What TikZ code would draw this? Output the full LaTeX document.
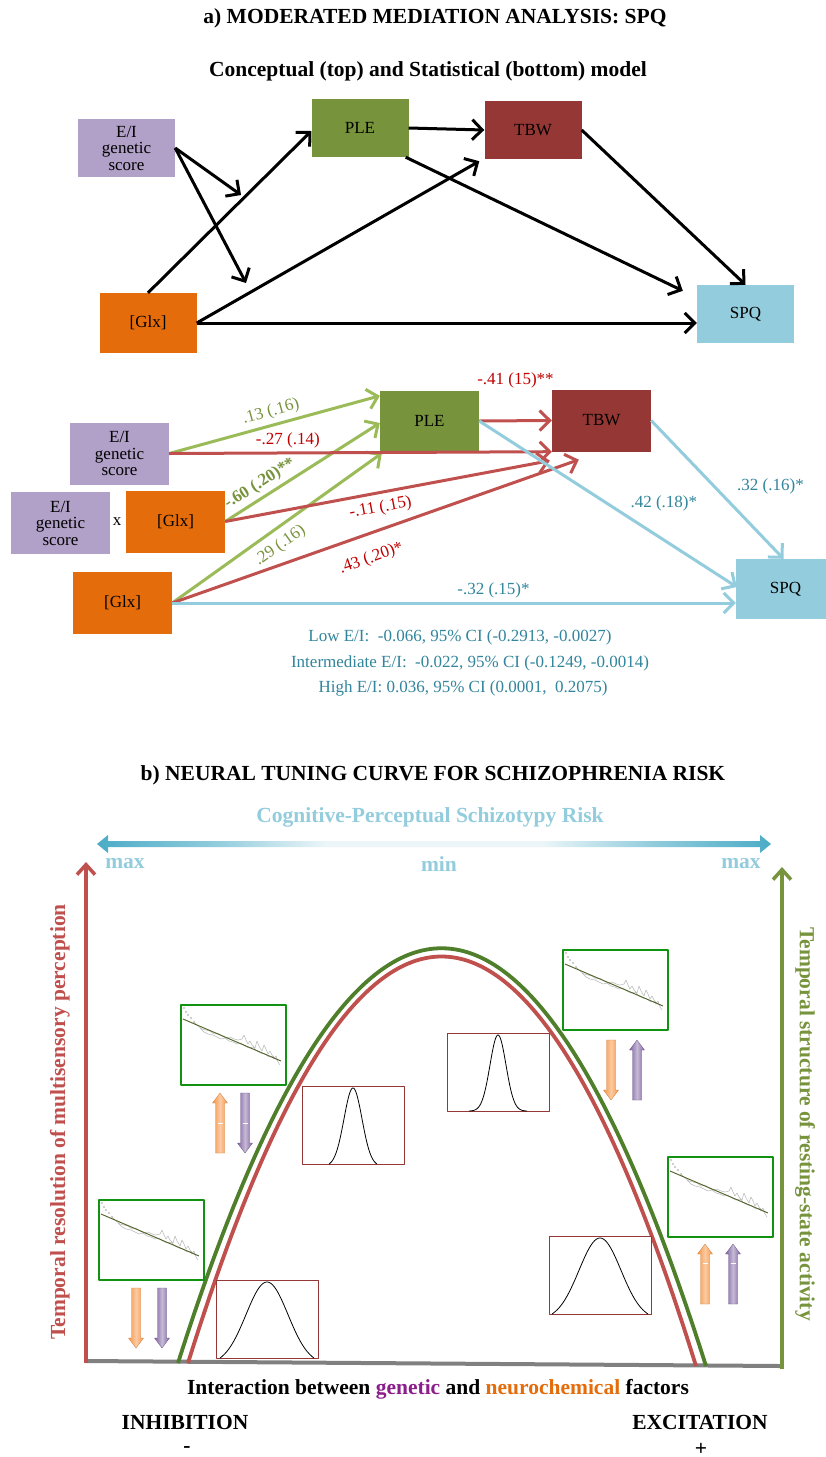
\documentclass[tikz,border=0pt]{standalone}
\usepackage{fontspec}
\setmainfont{Liberation Serif}
\usetikzlibrary{positioning,arrows.meta,calc}

\definecolor{boxpurple}{HTML}{B1A0C7}
\definecolor{boxgreen}{HTML}{77933C}
\definecolor{boxred}{HTML}{953735}
\definecolor{boxorange}{HTML}{E46C0A}
\definecolor{boxblue}{HTML}{93CDDD}
\definecolor{pathgreen}{HTML}{9BBB59}
\definecolor{pathred}{HTML}{C0504D}
\definecolor{txtred}{HTML}{C00000}
\definecolor{txtteal}{HTML}{31859C}
\definecolor{riskdark}{HTML}{4BACC6}
\definecolor{curvegreen}{HTML}{4F7F2A}
\definecolor{insetgreen}{HTML}{119311}
\definecolor{fitline}{HTML}{4F6228}
\definecolor{arrorange}{HTML}{F79646}
\definecolor{arrpurple}{HTML}{8064A2}
\definecolor{genpurple}{HTML}{8B1E8B}

\newcommand{\hdfont}{\fontsize{21.5}{24}\selectfont\bfseries}
\newcommand{\labfont}{\fontsize{17}{16.5}\selectfont}

\pgfdeclarehorizontalshading{riskfade}{100bp}{color(0bp)=(riskdark); color(25bp)=(riskdark);
  color(34bp)=(boxblue); color(42bp)=(boxblue!18!white); color(58bp)=(boxblue!18!white); color(66bp)=(boxblue);
  color(75bp)=(riskdark); color(100bp)=(riskdark)}

% inset with a fitted power law
\newcommand{\fitinset}[3]{%
  \node[fitbox, anchor=north west] (#1) at (#2,#3) {};
  \begin{scope}[shift={(#1.north west)}]
    \foreach \p in {(4,4),(6,8),(8,11),(11,14),(14,18)} \fill[black!25] \p circle (1.1);
    \draw[noise] (14,18) -- (18,22) -- (22,25) -- (26,26) -- (30,27) -- (34,30) -- (38,29) -- (42,32)
      -- (46,34) -- (50,33) -- (54,35) -- (58,36) -- (62,35) -- (64,31) -- (66,36) -- (68,40) -- (70,37)
      -- (72,41) -- (75,44) -- (77,37) -- (79,42) -- (82,47) -- (84,41) -- (86,45) -- (88,50) -- (90,47)
      -- (92,51) -- (94,55) -- (96,52) -- (98,58) -- (100,61);
    \draw[noise] (20,24) -- (24,28) -- (28,30) -- (33,31) -- (37,33) -- (41,35) -- (45,34) -- (49,37)
      -- (53,38) -- (57,40) -- (61,39) -- (65,42) -- (69,44) -- (73,43) -- (77,47) -- (81,49) -- (85,50)
      -- (89,53) -- (93,52) -- (97,56);
    \draw[fitline, line width=0.9pt] (3,15) -- (101,57);
  \end{scope}}
% inset with a tuning curve: name, x, y, sigma, half width
\newcommand{\gaussinset}[5]{%
  \node[gaussbox, anchor=north west] (#1) at (#2,#3) {};
  \begin{scope}[shift={(#1.north west)}]
    \draw[black, line width=0.8pt] plot[domain={51-#5}:{51+#5}, samples=90, smooth]
      (\x, {78 - 76*(exp(-((\x-51)^2)/(2*#4*#4)) - exp(-(#5*#5)/(2*#4*#4)))/(1 - exp(-(#5*#5)/(2*#4*#4)))});
  \end{scope}}

\begin{document}
\begin{tikzpicture}[x=1pt, y=-1pt, line join=round,
    hd/.style={font=\hdfont},
    box/.style={minimum width=97pt, minimum height=58pt, inner sep=0pt, align=center, font=\labfont},
    sbox/.style={box, minimum width=99pt, minimum height=62pt},
    ar/.style={-{Straight Barb[length=10pt,width=20pt]}, line width=3pt},
    gar/.style={ar, draw=pathgreen},
    rar/.style={ar, draw=pathred},
    bar/.style={ar, draw=boxblue},
    plab/.style={font=\labfont, inner sep=3pt},
    axl/.style={-{Straight Barb[length=10pt,width=18pt]}, line width=3.5pt},
    curve/.style={line width=3.8pt},
    fitbox/.style={draw=insetgreen, line width=1.6pt, fill=white, minimum width=105pt, minimum height=80pt, inner sep=0pt},
    gaussbox/.style={draw=boxred, line width=1.4pt, fill=white, minimum width=102pt, minimum height=78pt, inner sep=0pt},
    noise/.style={draw=black!28, line width=0.5pt},
    orgshade/.style={left color=arrorange, right color=arrorange, middle color=arrorange!50!white, draw=arrorange!85!black, line width=0.3pt},
    purshade/.style={left color=arrpurple, right color=arrpurple, middle color=arrpurple!45!white, draw=arrpurple!85!black, line width=0.3pt},
    blkup/.pic={\path[pic actions] (0,-30) -- (7.5,-20) -- (4.5,-20) -- (4.5,30) -- (-4.5,30) -- (-4.5,-20) -- (-7.5,-20) -- cycle;},
    blkdown/.pic={\path[pic actions] (0,30) -- (7.5,20) -- (4.5,20) -- (4.5,-30) -- (-4.5,-30) -- (-4.5,20) -- (-7.5,20) -- cycle;},
    shaftmark/.pic={\draw[white, line width=1pt] (-2.5,0) -- (2.5,0);},
]
\useasboundingbox[fill=white] (0,0) rectangle (825,1457);

% ---------- a) titles ----------
\node[hd] (titlea) at (435,18) {a) MODERATED MEDIATION ANALYSIS: SPQ};
\node[hd] (subtitle) at (428,71) {Conceptual (top) and Statistical (bottom) model};

% ---------- conceptual model ----------
\node[box, fill=boxpurple] (ei1) at (126.5,148) {E/I\\genetic\\score};
\node[box, fill=boxgreen] (ple1) at (360,128) {PLE};
\node[box, fill=boxred] (tbw1) at (533,130) {TBW};
\node[box, fill=boxorange, minimum height=60pt] (glx1) at (148,323) {[Glx]};
\node[box, fill=boxblue] (spq1) at (745.5,314) {SPQ};
\coordinate (modA) at (241,195);
\coordinate (modB) at (246,283);

\draw[ar] (ei1.east) -- (modA);
\draw[ar] (ei1.east) -- (modB);
\draw[ar] (glx1.north) -- ($(ple1.west)+(0,3)$);
\draw[ar] (glx1.east) -- ($(tbw1.south west)+(-5,2)$);
\draw[ar] (glx1.east) -- ($(spq1.west)+(0,9)$);
\draw[ar] (ple1.east) -- (tbw1.west);
\draw[ar] ($(ple1.south east)+(-3,0)$) -- ($(spq1.north west)+(-14,6)$);
\draw[ar] (tbw1.east) -- (spq1.north);

% ---------- statistical model ----------
\node[sbox, fill=boxpurple] (ei2) at (119.5,453.5) {E/I\\genetic\\score};
\node[sbox, fill=boxpurple] (eix) at (60.5,523) {E/I\\genetic\\score};
\node[font=\labfont] (times) at (117,522) {x};
\node[sbox, fill=boxorange] (glxx) at (175.5,521.5) {[Glx]};
\node[sbox, fill=boxorange] (glx2) at (122.5,603) {[Glx]};
\node[sbox, fill=boxgreen, minimum height=60pt] (ple2) at (429.5,421) {PLE};
\node[sbox, fill=boxred] (tbw2) at (601.5,420.5) {TBW};
\node[sbox, fill=boxblue, minimum height=60pt] (spq2) at (785.5,589) {SPQ};

\draw[gar] (ei2.east) -- node[plab, sloped, above=1pt, text=boxgreen] {.13 (.16)} ($(ple2.north west)+(0,5)$);
\draw[gar] (glxx.east) -- node[plab, sloped, above=1pt, pos=0.27, text=boxgreen, font=\labfont\bfseries] {-.60 (.20)**} ($(ple2.west)+(0,2)$);
\draw[gar] (glx2.east) -- node[plab, sloped, below=4pt, pos=0.47, text=boxgreen] {.29 (.16)} ($(ple2.south west)+(2,2)$);
\draw[rar] (ei2.east) -- node[plab, above=0pt, pos=0.31, text=txtred] {-.27 (.14)} (tbw2.south west);
\draw[rar] (ple2.east) -- node[plab, above=28pt, text=txtred] {-.41 (15)**} (tbw2.west);
\draw[rar] (glxx.east) -- node[plab, sloped, below=3pt, pos=0.47, text=txtred] {-.11 (.15)} ($(tbw2.south west)+(-2,9)$);
\draw[rar] (glx2.east) -- node[plab, sloped, below=12pt, pos=0.47, text=txtred] {.43 (.20)*} ($(tbw2.south west)+(27,8)$);
\draw[bar] (ple2.east) -- node[plab, pos=0.57, above right=0pt, text=txtteal] {.42 (.18)*} ($(spq2.west)+(1,-2)$);
\draw[bar] (tbw2.east) -- node[plab, pos=0.48, right=18pt, text=txtteal] {.32 (.16)*} ($(spq2.north)+(-2,0)$);
\draw[bar] (glx2.east) -- node[plab, pos=0.57, above=0pt, text=txtteal] {-.32 (.15)*} ($(spq2.west)+(0,14)$);

\node[font=\labfont, text=txtteal] (ciLow) at (460,637) {Low E/I:\ \ -0.066, 95\% CI (-0.2913, -0.0027)};
\node[font=\labfont, text=txtteal] (ciMid) at (470,663) {Intermediate E/I:\ \ -0.022, 95\% CI (-0.1249, -0.0014)};
\node[font=\labfont, text=txtteal] (ciHigh) at (463,688) {High E/I: 0.036, 95\% CI (0.0001,\ \ 0.2075)};

% ---------- b) tuning curve ----------
\node[hd] (titleb) at (433,775) {b) NEURAL TUNING CURVE FOR SCHIZOPHRENIA RISK};
\node[hd, text=boxblue] (risk) at (430,817) {Cognitive-Perceptual Schizotypy Risk};
\shade[shading=riskfade] (97,844) -- (108,835) -- (108,841) -- (760,841) -- (760,835) -- (771,844)
  -- (760,853) -- (760,847) -- (108,847) -- (108,853) -- cycle;
\node[hd, text=boxblue] (maxL) at (125,864) {max};
\node[hd, text=boxblue] (minC) at (439,864) {min};
\node[hd, text=boxblue] (maxR) at (741,864) {max};

\coordinate (orig) at (86,1361);
\coordinate (ytopL) at (86,862);
\coordinate (xend) at (780,1366);
\coordinate (ybotR) at (782,1369);
\coordinate (ytopR) at (782,867);
\draw[line width=4pt, draw=black!50] (orig) -- (xend);
\draw[axl, draw=pathred] ([yshift=-2pt]orig) -- (ytopL);
\draw[axl, draw=boxgreen] (ybotR) -- (ytopR);
\node[hd, text=pathred, rotate=90] (ylabL) at (60,1122) {Temporal resolution of multisensory perception};
\node[hd, text=boxgreen, rotate=-90] (ylabR) at (805,1124) {Temporal structure of resting-state activity};

\draw[curve, draw=curvegreen] (178,1363) .. controls (354,809) and (530,810) .. (706,1366);
\draw[curve, draw=pathred] (188,1363) .. controls (357,820) and (527,821) .. (696,1366);

\fitinset{fitA}{180}{1004}
\fitinset{fitB}{98}{1199}
\fitinset{fitC}{562}{949}
\fitinset{fitD}{667}{1156}
\gaussinset{tuneA}{216}{1280}{21}{47}
\gaussinset{tuneB}{302}{1086}{9}{24}
\gaussinset{tuneC}{447}{1033}{8}{29}
\gaussinset{tuneD}{549}{1236}{21}{48}

\pic[orgshade] at (220,1123) {blkup};
\pic[purshade] at (245,1123) {blkdown};
\pic at (220,1123) {shaftmark};
\pic at (245,1123) {shaftmark};
\pic[orgshade] at (136,1318) {blkdown};
\pic[purshade] at (162,1318) {blkdown};
\pic[orgshade] at (611,1070) {blkdown};
\pic[purshade] at (637,1070) {blkup};
\pic[orgshade] at (705,1274) {blkup};
\pic[purshade] at (733,1274) {blkup};
\pic at (705,1263) {shaftmark};
\pic at (733,1263) {shaftmark};

\node[hd] (xlab) at (438,1389) {Interaction between \textcolor{genpurple}{genetic} and \textcolor{boxorange}{neurochemical} factors};
\node[hd] (inhib) at (185,1422) {INHIBITION};
\node[hd] (excit) at (700,1422) {EXCITATION};
\node[hd] (minus) at (187,1449) {-};
\node[hd] (plus) at (701,1449) {+};
\end{tikzpicture}
\end{document}
